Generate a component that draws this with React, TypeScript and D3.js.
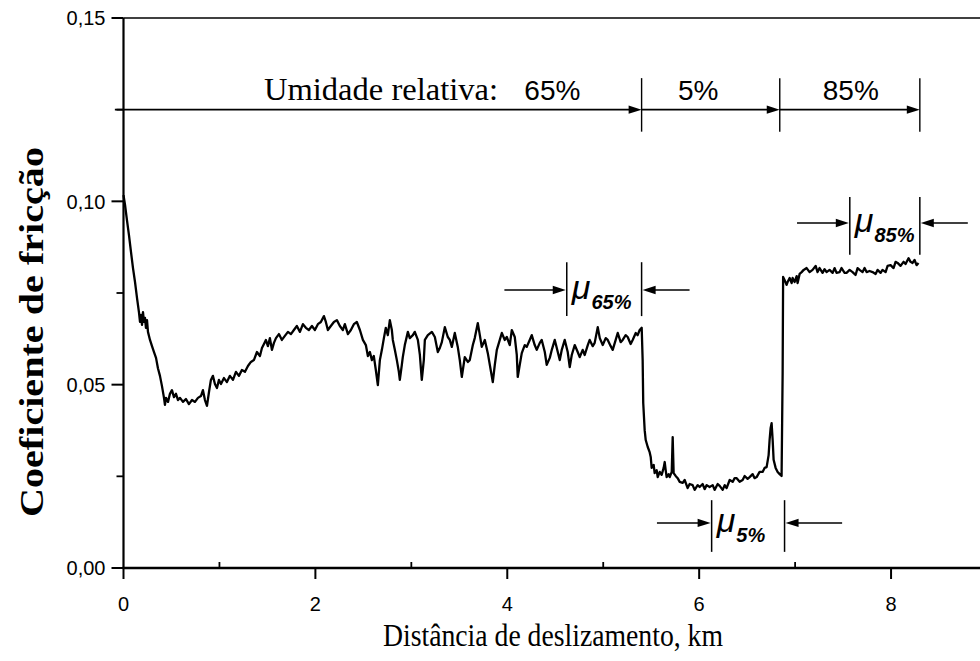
import React from "react";
import * as d3 from "d3";

// Friction trace: [sliding distance (km), friction coefficient]
const trace: [number, number][] = [
  [0, 0.1017], [0.016, 0.099], [0.036, 0.0949], [0.057, 0.0908], [0.078, 0.0862], [0.099, 0.0818],
  [0.12, 0.078], [0.141, 0.0736], [0.161, 0.0698], [0.172, 0.0671], [0.182, 0.069], [0.193, 0.0663],
  [0.203, 0.0698], [0.214, 0.0671], [0.224, 0.0682], [0.234, 0.0655], [0.245, 0.0676], [0.255, 0.0644],
  [0.276, 0.0622], [0.297, 0.0605], [0.318, 0.0589], [0.339, 0.0573], [0.359, 0.0545], [0.38, 0.0524],
  [0.401, 0.0496], [0.422, 0.0464], [0.432, 0.0445], [0.443, 0.0464], [0.464, 0.0453], [0.484, 0.0475],
  [0.505, 0.0485], [0.526, 0.0466], [0.547, 0.0475], [0.568, 0.0458], [0.589, 0.0464], [0.62, 0.0453],
  [0.651, 0.0461], [0.682, 0.0447], [0.714, 0.0458], [0.745, 0.0453], [0.776, 0.0464], [0.807, 0.0469],
  [0.828, 0.0485], [0.849, 0.0458], [0.87, 0.0442], [0.891, 0.048], [0.911, 0.0513], [0.932, 0.0524],
  [0.953, 0.0502], [0.974, 0.0491], [0.995, 0.0513], [1.016, 0.0502], [1.047, 0.0518], [1.078, 0.0507],
  [1.109, 0.0524], [1.141, 0.0513], [1.172, 0.0535], [1.203, 0.0524], [1.234, 0.054], [1.266, 0.0535],
  [1.297, 0.0551], [1.328, 0.0562], [1.359, 0.0567], [1.391, 0.0589], [1.422, 0.0578], [1.443, 0.06],
  [1.464, 0.0611], [1.484, 0.0622], [1.505, 0.0605], [1.526, 0.0627], [1.547, 0.0595], [1.568, 0.0614],
  [1.589, 0.0627], [1.62, 0.0638], [1.651, 0.0622], [1.682, 0.0633], [1.714, 0.0644], [1.745, 0.0638],
  [1.776, 0.0649], [1.807, 0.066], [1.839, 0.0644], [1.87, 0.0665], [1.901, 0.0655], [1.932, 0.0649],
  [1.964, 0.066], [1.995, 0.0649], [2.026, 0.0665], [2.057, 0.0671], [2.089, 0.0687], [2.109, 0.0671],
  [2.13, 0.0649], [2.161, 0.066], [2.193, 0.0671], [2.224, 0.0676], [2.255, 0.066], [2.286, 0.0649],
  [2.307, 0.0665], [2.339, 0.0638], [2.37, 0.0649], [2.401, 0.0665], [2.432, 0.0671], [2.464, 0.0649],
  [2.495, 0.0622], [2.526, 0.0608], [2.547, 0.0578], [2.568, 0.0589], [2.589, 0.0567], [2.609, 0.0578],
  [2.63, 0.054], [2.651, 0.0499], [2.672, 0.0567], [2.693, 0.0595], [2.714, 0.0627], [2.734, 0.0655],
  [2.755, 0.0635], [2.776, 0.0676], [2.797, 0.0649], [2.807, 0.0622], [2.828, 0.0595], [2.849, 0.0567],
  [2.87, 0.0535], [2.88, 0.0513], [2.901, 0.0554], [2.911, 0.0575], [2.932, 0.0608], [2.964, 0.0644],
  [2.984, 0.0627], [3.016, 0.0635], [3.036, 0.0644], [3.068, 0.0622], [3.089, 0.0581], [3.109, 0.0513],
  [3.13, 0.0567], [3.141, 0.0622], [3.172, 0.0635], [3.214, 0.0644], [3.245, 0.063], [3.276, 0.0589],
  [3.297, 0.06], [3.318, 0.0616], [3.349, 0.0657], [3.38, 0.063], [3.401, 0.0622], [3.422, 0.0603],
  [3.453, 0.0641], [3.484, 0.0603], [3.505, 0.0567], [3.526, 0.0521], [3.557, 0.0575], [3.589, 0.0562],
  [3.609, 0.0567], [3.641, 0.0608], [3.661, 0.0627], [3.693, 0.0668], [3.714, 0.0635], [3.734, 0.0603],
  [3.766, 0.0622], [3.797, 0.0586], [3.818, 0.0554], [3.849, 0.0507], [3.87, 0.0554], [3.891, 0.0595],
  [3.922, 0.0622], [3.943, 0.0641], [3.974, 0.0622], [3.995, 0.063], [4.026, 0.0608], [4.047, 0.0649],
  [4.078, 0.063], [4.099, 0.0581], [4.109, 0.0521], [4.13, 0.0554], [4.151, 0.0586], [4.182, 0.0608],
  [4.203, 0.0603], [4.234, 0.0622], [4.255, 0.0635], [4.286, 0.0608], [4.307, 0.0595], [4.339, 0.0614],
  [4.359, 0.0622], [4.391, 0.0589], [4.411, 0.0554], [4.443, 0.0573], [4.464, 0.0595], [4.495, 0.0622],
  [4.516, 0.06], [4.547, 0.0567], [4.568, 0.0595], [4.599, 0.0622], [4.63, 0.0589], [4.651, 0.0548],
  [4.672, 0.0581], [4.703, 0.0608], [4.734, 0.0589], [4.755, 0.0575], [4.786, 0.0595], [4.807, 0.0581],
  [4.839, 0.0608], [4.859, 0.0622], [4.891, 0.0605], [4.911, 0.0614], [4.943, 0.0657], [4.964, 0.0627],
  [4.995, 0.0608], [5.026, 0.0627], [5.047, 0.0622], [5.078, 0.0605], [5.099, 0.0595], [5.13, 0.0622],
  [5.151, 0.0641], [5.182, 0.0616], [5.203, 0.0622], [5.234, 0.0635], [5.255, 0.063], [5.286, 0.0611],
  [5.307, 0.0622], [5.339, 0.0641], [5.359, 0.0635], [5.38, 0.0649], [5.401, 0.0655],
  [5.411, 0.0567], [5.417, 0.045], [5.432, 0.0376], [5.443, 0.0349], [5.464, 0.033], [5.484, 0.0316],
  [5.495, 0.0303], [5.505, 0.0273], [5.526, 0.0281], [5.536, 0.0259], [5.557, 0.0267], [5.568, 0.0248],
  [5.589, 0.0262], [5.609, 0.0254], [5.63, 0.0273], [5.641, 0.0289], [5.651, 0.0267], [5.661, 0.0248],
  [5.682, 0.0256], [5.693, 0.0248], [5.714, 0.0262], [5.724, 0.0357], [5.734, 0.0259], [5.755, 0.0251],
  [5.776, 0.0245], [5.797, 0.0235], [5.828, 0.0232], [5.849, 0.024], [5.88, 0.0218], [5.901, 0.0229],
  [5.932, 0.0226], [5.953, 0.0213], [5.984, 0.0226], [6.005, 0.0221], [6.036, 0.0229], [6.057, 0.0215],
  [6.078, 0.0226], [6.109, 0.0221], [6.141, 0.0226], [6.161, 0.0213], [6.193, 0.0229], [6.214, 0.0224],
  [6.245, 0.0213], [6.266, 0.0226], [6.286, 0.0218], [6.318, 0.024], [6.349, 0.0235], [6.37, 0.0245],
  [6.391, 0.0245], [6.422, 0.0235], [6.453, 0.024], [6.474, 0.0251], [6.505, 0.0243], [6.526, 0.0248],
  [6.557, 0.0256], [6.578, 0.0245], [6.599, 0.0248], [6.63, 0.0262], [6.661, 0.0262], [6.682, 0.0273],
  [6.703, 0.0275], [6.724, 0.0308], [6.734, 0.0349], [6.745, 0.0382], [6.755, 0.0395], [6.766, 0.0349],
  [6.776, 0.0295], [6.797, 0.0273], [6.818, 0.0262], [6.839, 0.0256], [6.859, 0.0251], [6.865, 0.0404],
  [6.87, 0.0532], [6.875, 0.0794], [6.891, 0.0785], [6.911, 0.0772], [6.922, 0.078], [6.943, 0.0791],
  [6.964, 0.0777], [6.974, 0.0791], [6.995, 0.078], [7.016, 0.0796], [7.026, 0.0777], [7.047, 0.0802],
  [7.068, 0.0807], [7.089, 0.0813], [7.12, 0.0818], [7.151, 0.0807], [7.182, 0.0813], [7.214, 0.0824],
  [7.234, 0.0807], [7.255, 0.0818], [7.286, 0.0805], [7.307, 0.0815], [7.328, 0.0807], [7.359, 0.0813],
  [7.391, 0.0805], [7.411, 0.0818], [7.432, 0.0805], [7.464, 0.0807], [7.484, 0.0818], [7.516, 0.0805],
  [7.536, 0.0805], [7.568, 0.0813], [7.599, 0.0807], [7.63, 0.0799], [7.651, 0.0818], [7.672, 0.0813],
  [7.703, 0.0807], [7.724, 0.0818], [7.745, 0.0807], [7.776, 0.081], [7.807, 0.0807], [7.839, 0.0802],
  [7.859, 0.0813], [7.891, 0.0805], [7.911, 0.0813], [7.943, 0.0807], [7.964, 0.0824], [7.995, 0.0826],
  [8.026, 0.0818], [8.047, 0.0835], [8.068, 0.0832], [8.099, 0.0824], [8.13, 0.0835], [8.151, 0.0829],
  [8.182, 0.0845], [8.203, 0.0835], [8.224, 0.0832], [8.245, 0.084], [8.266, 0.0826], [8.286, 0.0832],
];

const xMajorTicks = [0, 2, 4, 6, 8];
const xMinorTicks = [1, 3, 5, 7, 9];
const yMajorTicks = [0, 0.05, 0.1, 0.15];
const yMinorTicks = [0.025, 0.075, 0.125];

// Humidity stages: boundaries along distance (km) and their labels
const humidityStart = -0.09;
const humidityBounds = [5.4, 6.84, 8.3];
const humidityLabels = ["65%", "5%", "85%"];
const humidityLabelAt = [4.47, 5.99, 7.58];
const humidityLevel = 0.125;
const humidityBarSpan = [0.119, 0.1336];

// Averaging windows for the mean friction values
const windows = [
  { label: "65%", from: 4.62, to: 5.4, level: 0.0758, span: [0.0687, 0.0834], arrowIn: [3.97, 5.9] },
  { label: "5%", from: 6.13, to: 6.89, level: 0.0123, span: [0.0044, 0.0185], arrowIn: [5.56, 7.49] },
  { label: "85%", from: 7.57, to: 8.3, level: 0.0941, span: [0.0854, 0.1012], arrowIn: [7.02, 8.8] },
];

const W = 980;
const H = 661;
const x = d3.scaleLinear().domain([0, 9]).range([123.5, 987]);
const y = d3.scaleLinear().domain([0, 0.15]).range([568, 18]);

const sans = "'Liberation Sans', Arial, Helvetica, sans-serif";
const serif = "'Liberation Serif', 'Times New Roman', serif";

function ArrowHead({ tipX, tipY, dir }: { tipX: number; tipY: number; dir: 1 | -1 }) {
  const len = 13;
  const half = 4.2;
  const p = d3.path();
  p.moveTo(tipX, tipY);
  p.lineTo(tipX - dir * len, tipY - half);
  p.lineTo(tipX - dir * len, tipY + half);
  p.closePath();
  return <path d={p.toString()} fill="#000" />;
}

export default function App() {
  const line = d3
    .line<[number, number]>()
    .x((d) => x(d[0]))
    .y((d) => y(d[1]));

  const hy = y(humidityLevel);
  const starts = [humidityStart, ...humidityBounds.slice(0, -1)];

  return (
    <svg
      width={W}
      height={H}
      style={{ position: "absolute", left: 0, top: 0, background: "#fff" }}
    >
      {/* frame */}
      <line x1={x(0)} x2={W} y1={y(0.15)} y2={y(0.15)} stroke="#000" strokeWidth={1.4} />
      <line x1={x(0)} x2={x(0)} y1={y(0.15)} y2={y(0) + 1} stroke="#000" strokeWidth={2.2} />
      <line x1={x(0) - 1} x2={W} y1={y(0)} y2={y(0)} stroke="#000" strokeWidth={2.4} />

      {/* y ticks */}
      {yMajorTicks.map((t) => (
        <g key={"ym" + t}>
          <line x1={x(0) - 12} x2={x(0)} y1={y(t)} y2={y(t)} stroke="#000" strokeWidth={2} />
          <text
            x={x(0) - 18}
            y={y(t)}
            dy="0.36em"
            textAnchor="end"
            fontFamily={sans}
            fontSize={20}
          >
            {d3.format(".2f")(t).replace(".", ",")}
          </text>
        </g>
      ))}
      {yMinorTicks.map((t) => (
        <line key={"yn" + t} x1={x(0) - 7} x2={x(0)} y1={y(t)} y2={y(t)} stroke="#000" strokeWidth={1.8} />
      ))}

      {/* x ticks */}
      {xMajorTicks.map((t) => (
        <g key={"xm" + t}>
          <line x1={x(t)} x2={x(t)} y1={y(0)} y2={y(0) + 11} stroke="#000" strokeWidth={2} />
          <text x={x(t)} y={y(0) + 43} textAnchor="middle" fontFamily={sans} fontSize={20}>
            {t}
          </text>
        </g>
      ))}
      {xMinorTicks.map((t) => (
        <line key={"xn" + t} x1={x(t)} x2={x(t)} y1={y(0) - 6} y2={y(0)} stroke="#000" strokeWidth={1.8} />
      ))}

      {/* axis titles */}
      <text
        x={383}
        y={646}
        fontFamily={serif}
        fontSize={31}
        textLength={340}
        lengthAdjust="spacingAndGlyphs"
      >
        Distância de deslizamento, km
      </text>
      <text
        transform={`translate(43, 332) rotate(-90)`}
        textAnchor="middle"
        fontFamily={serif}
        fontWeight="bold"
        fontSize={33}
        textLength={370}
        lengthAdjust="spacingAndGlyphs"
      >
        Coeficiente de fricção
      </text>

      {/* humidity stages */}
      {humidityBounds.map((b, i) => (
        <g key={"hb" + i}>
          <line
            x1={x(starts[i])}
            x2={x(b) - 12}
            y1={hy}
            y2={hy}
            stroke="#000"
            strokeWidth={1.8}
          />
          <ArrowHead tipX={x(b)} tipY={hy} dir={1} />
          <line
            x1={x(b)}
            x2={x(b)}
            y1={y(humidityBarSpan[1])}
            y2={y(humidityBarSpan[0])}
            stroke="#000"
            strokeWidth={1.4}
          />
        </g>
      ))}
      <text
        x={264}
        y={100}
        fontFamily={serif}
        fontSize={31}
        textLength={234}
        lengthAdjust="spacingAndGlyphs"
      >
        Umidade relativa:
      </text>
      {humidityLabels.map((lab, i) => (
        <text
          key={lab}
          x={x(humidityLabelAt[i])}
          y={100}
          textAnchor="middle"
          fontFamily={sans}
          fontSize={28}
        >
          {lab}
        </text>
      ))}

      {/* mean friction windows */}
      {windows.map((w) => {
        const ly = y(w.level);
        return (
          <g key={w.label}>
            <line x1={x(w.from)} x2={x(w.from)} y1={y(w.span[1])} y2={y(w.span[0])} stroke="#000" strokeWidth={1.5} />
            <line x1={x(w.to)} x2={x(w.to)} y1={y(w.span[1])} y2={y(w.span[0])} stroke="#000" strokeWidth={1.5} />
            <line x1={x(w.arrowIn[0])} x2={x(w.from) - 12} y1={ly} y2={ly} stroke="#000" strokeWidth={1.5} />
            <ArrowHead tipX={x(w.from) - 1} tipY={ly} dir={1} />
            <line x1={x(w.arrowIn[1])} x2={x(w.to) + 12} y1={ly} y2={ly} stroke="#000" strokeWidth={1.5} />
            <ArrowHead tipX={x(w.to) + 1} tipY={ly} dir={-1} />
            <text x={x(w.from) + 5} y={ly + 9} fontFamily={sans} fontStyle="italic" fontSize={34}>
              μ
              <tspan dx={1} dy={10} fontSize={20} fontWeight="bold">
                {w.label}
              </tspan>
            </text>
          </g>
        );
      })}

      {/* friction trace */}
      <path
        d={line(trace) ?? ""}
        fill="none"
        stroke="#000"
        strokeWidth={2.3}
        strokeLinejoin="round"
      />
    </svg>
  );
}
